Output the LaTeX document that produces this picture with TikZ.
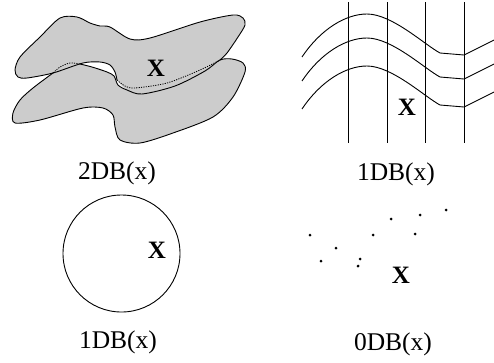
\documentclass[tikz,border=0pt]{standalone}
\usepackage{fontspec}
\setmainfont{Liberation Serif}
\begin{document}
\begin{tikzpicture}[x=1pt,y=-1pt,
  lbl/.style={inner sep=0pt,font=\fontsize{25.5}{30}\selectfont},
  mark x/.style={inner sep=0pt,font=\fontsize{25}{29}\selectfont\bfseries},
  line/.style={line width=0.9pt,black},
  hid/.style={line width=0.8pt,black,dash pattern=on 1.2pt off 1.2pt},
  blobfill/.style={fill=black!20,draw=none},
  dotmark/.style={circle,fill=black,inner sep=0pt,minimum size=3pt}]
\useasboundingbox (0,0) rectangle (494,362);

% ---------- top-left: two folded blobs ----------
\fill[blobfill] plot[smooth cycle] coordinates {(117,80) (115,72) (110,65) (100,62) (83,63) (53,73) (27,78) (18,77) (15,70) (20,57) (40,37) (60,18) (77,17) (90,23) (100,26) (110,27) (130,39) (150,38) (200,22) (233,15) (243,18) (245,25) (238,37) (227,53) (220,60) (205,71) (175,86) (142,94) (127,90)};
\fill[blobfill] plot[smooth cycle] coordinates {(53,73) (70,63) (80,64) (92,67) (107,72) (114,76) (118,85) (127,90) (142,94) (175,86) (205,71) (220,60) (232,59) (243,63) (245,72) (233,97) (213,117) (173,133) (140,143) (120,140) (115,127) (113,115) (103,108) (83,108) (40,120) (15,123) (13,113) (20,100) (33,88)};
\draw[line] plot[smooth] coordinates {(117,80) (115,72) (110,65) (100,62) (83,63) (53,73) (27,78) (18,77) (15,70) (20,57) (40,37) (60,18) (77,17) (90,23) (100,26) (110,27) (130,39) (150,38) (200,22) (233,15) (243,18) (245,25) (238,37) (227,53) (220,60)};
\draw[hid] plot[smooth] coordinates {(117,80) (125,86) (135,88) (167,83) (200,70) (220,60)};
\draw[line] plot[smooth] coordinates {(80,64) (92,67) (107,72) (114,76) (118,85) (127,90) (142,94) (175,86) (205,71) (220,60) (232,59) (243,63) (245,72) (233,97) (213,117) (173,133) (140,143) (120,140) (115,127) (113,115) (103,108) (83,108) (40,120) (15,123) (13,113) (20,100) (33,88) (53,73)};
\draw[hid] plot[smooth] coordinates {(53,73) (60,67) (70,63) (80,64)};
\node[mark x] (x1) at (156,68) {X};
\node[lbl] (l1) at (117,173) {2DB(x)};

% ---------- top-right: grid of curves ----------
\foreach \i/\xx in {1/348,2/387,3/425,4/464}{
  \coordinate (vt\i) at (\xx,2);
  \coordinate (vb\i) at (\xx,143);
  \draw[line] (vt\i) -- (vb\i);
}
\foreach \d [count=\k] in {0,24,52}{
  \coordinate (ca\k) at (302,57+\d);
  \coordinate (cb\k) at (367,14+\d);
  \coordinate (cc\k) at (440,53+\d);
  \coordinate (cd\k) at (464,55+\d);
  \coordinate (ce\k) at (494,40+\d);
  \draw[line] (ca\k) .. controls +(18,-27) and +(-22,0) .. (cb\k)
     .. controls +(25,0) and +(-15,-8) .. (cc\k) -- (cd\k) -- (ce\k);
}
\node[mark x] (x2) at (407,107) {X};
\node[lbl] (l2) at (396,174) {1DB(x)};

% ---------- bottom-left: circle ----------
\node[circle,draw,line width=0.9pt,minimum size=117pt,inner sep=0pt] (circ) at (121.5,253.5) {};
\node[mark x] (x3) at (157,250) {X};
\node[lbl] (l3) at (118,342) {1DB(x)};

% ---------- bottom-right: points ----------
\foreach \px/\py [count=\n] in {310/235,336/248,321/261,373/235,360/259,358/266,391/219,415/234,420/215,446/210}{
  \node[dotmark] (p\n) at (\px,\py) {};
}
\node[mark x] (x4) at (401,275) {X};
\node[lbl] (l4) at (393,344) {0DB(x)};
\end{tikzpicture}
\end{document}
